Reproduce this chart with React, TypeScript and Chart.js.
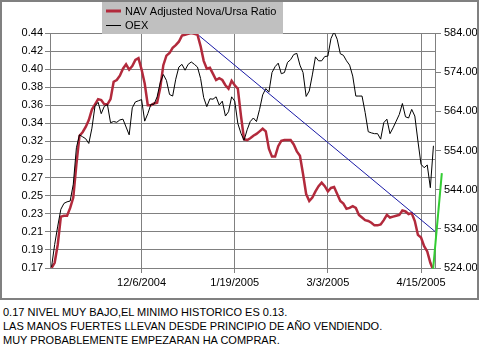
import { useEffect, useRef } from "react";
import { Chart, registerables } from "chart.js";

Chart.register(...registerables);

// ---- data (one value per trading day, 10/25/2004 .. 4/21/2005) ----
const xTickIdx = [29, 59, 89, 119];
const xTickLabels = ["12/6/2004", "1/19/2005", "3/3/2005", "4/15/2005"];
const leftTickLabels = ["0.17", "0.19", "0.21", "0.23", "0.25", "0.27", "0.29", "0.32", "0.34", "0.36", "0.38", "0.40", "0.42", "0.44"];
const rightTickValues = [524, 534, 544, 554, 564, 574, 584];

const navRatio = [
  0.170, 0.176, 0.197, 0.229, 0.230, 0.230, 0.239, 0.251, 0.289, 0.322,
  0.326, 0.332, 0.340, 0.352, 0.358, 0.364, 0.363, 0.358, 0.358, 0.364,
  0.384, 0.386, 0.391, 0.399, 0.404, 0.398, 0.402, 0.409, 0.411, 0.398,
  0.382, 0.357, 0.357, 0.359, 0.360, 0.377, 0.403, 0.414, 0.417, 0.423,
  0.426, 0.430, 0.437, 0.438, 0.439, 0.440, 0.439, 0.438, 0.425, 0.408,
  0.399, 0.400, 0.393, 0.386, 0.388, 0.386, 0.380, 0.376, 0.385, 0.380,
  0.376, 0.345, 0.318, 0.317, 0.319, 0.322, 0.324, 0.327, 0.330, 0.327,
  0.307, 0.298, 0.298, 0.310, 0.316, 0.317, 0.317, 0.317, 0.312, 0.304,
  0.299, 0.278, 0.255, 0.247, 0.251, 0.258, 0.264, 0.268, 0.264, 0.258,
  0.262, 0.263, 0.255, 0.247, 0.244, 0.238, 0.239, 0.241, 0.239, 0.231,
  0.228, 0.225, 0.224, 0.222, 0.219, 0.219, 0.220, 0.225, 0.231, 0.228,
  0.229, 0.230, 0.231, 0.236, 0.235, 0.232, 0.233, 0.224, 0.208, 0.205,
  0.195, 0.189, 0.176, 0.167,
];

const oex = [
  524.3, 530.0, 534.7, 539.0, 540.5, 540.9, 541.1, 545.4, 554.7, 558.0,
  557.5, 557.0, 555.8, 559.7, 565.4, 566.3, 563.4, 565.3, 565.7, 561.1,
  561.4, 561.2, 561.8, 562.0, 560.0, 558.0, 564.9, 566.4, 566.7, 567.0,
  561.5, 563.4, 565.8, 565.8, 567.7, 571.3, 573.4, 571.9, 568.3, 567.9,
  572.2, 575.3, 576.0, 574.5, 576.0, 576.6, 576.0, 575.3, 572.4, 567.5,
  565.2, 567.2, 567.1, 567.7, 565.6, 566.6, 562.8, 563.9, 567.7, 566.6,
  560.9, 558.4, 556.6, 559.3, 561.4, 562.3, 561.4, 564.5, 568.2, 569.8,
  568.9, 573.9, 575.4, 576.3, 573.6, 573.9, 576.5, 577.2, 578.5, 578.8,
  575.8, 573.9, 567.8, 569.2, 573.3, 577.9, 576.9, 576.9, 578.0, 578.1,
  582.6, 584.3, 582.4, 578.7, 578.3, 576.9, 575.8, 573.0, 567.9, 567.9,
  567.9, 563.7, 558.8, 558.5, 558.3, 558.3, 556.9, 561.1, 562.0, 558.3,
  559.8, 561.5, 563.2, 566.0, 562.6, 562.3, 564.5, 562.8, 556.4, 550.5,
  549.6, 550.3, 544.5, 555.2,
];

// hand-drawn annotations (on the ratio axis)
const trendX = [47.5, 123.5];
const trendY = [0.437, 0.212];
const reboundX = [122.9, 125.7];
const reboundY = [0.169, 0.279];

const notes = [
  "0.17 NIVEL MUY BAJO,EL MINIMO HISTORICO ES 0.13.",
  "LAS MANOS FUERTES LLEVAN DESDE PRINCIPIO DE AÑO VENDIENDO.",
  "MUY PROBABLEMENTE EMPEZARAN HA COMPRAR.",
];

const FONT = "'Liberation Sans', Arial, sans-serif";
const RED = "#b22a3c";
const GRID = "#808080";

export default function App() {
  const ref = useRef<HTMLCanvasElement | null>(null);

  useEffect(() => {
    document.body.style.margin = "0";
    const canvas = ref.current;
    if (!canvas) return;

    const framePlugin = {
      id: "frameLegend",
      afterDraw(chart: any) {
        const ctx = chart.ctx as CanvasRenderingContext2D;
        ctx.save();
        // legend box
        ctx.fillStyle = "#c0c0c0";
        ctx.fillRect(102, 2, 181, 32);
        ctx.lineCap = "butt";
        ctx.strokeStyle = RED;
        ctx.lineWidth = 3;
        ctx.beginPath();
        ctx.moveTo(106, 11);
        ctx.lineTo(121, 11);
        ctx.stroke();
        ctx.strokeStyle = "#000";
        ctx.lineWidth = 1;
        ctx.beginPath();
        ctx.moveTo(106, 25.5);
        ctx.lineTo(121, 25.5);
        ctx.stroke();
        ctx.fillStyle = "#000";
        ctx.font = "11px " + FONT;
        ctx.textBaseline = "middle";
        ctx.textAlign = "left";
        ctx.fillText(chart.data.datasets[3].label, 125, 11.5);
        ctx.fillText(chart.data.datasets[2].label, 125, 25.5);
        // outer frame
        ctx.strokeStyle = GRID;
        ctx.lineWidth = 2;
        ctx.strokeRect(1, 1, 477, 298);
        ctx.restore();
      },
    };

    const chart = new Chart(canvas, {
      type: "line",
      data: {
        datasets: [
          {
            label: "rebound",
            data: reboundX.map((x, k) => ({ x, y: reboundY[k] })),
            yAxisID: "y",
            borderColor: "#33cc33",
            borderWidth: 2,
            pointRadius: 0,
            clip: false,
            order: 0,
          },
          {
            label: "trend",
            data: trendX.map((x, k) => ({ x, y: trendY[k] })),
            yAxisID: "y",
            borderColor: "#1a1aa6",
            borderWidth: 1,
            pointRadius: 0,
            order: 1,
          },
          {
            label: "OEX",
            data: oex.map((y, i) => ({ x: i, y })),
            yAxisID: "y1",
            borderColor: "#000000",
            borderWidth: 1,
            pointRadius: 0,
            order: 2,
          },
          {
            label: "NAV Adjusted Nova/Ursa Ratio",
            data: navRatio.map((y, i) => ({ x: i, y })),
            yAxisID: "y",
            borderColor: RED,
            borderWidth: 2.5,
            pointRadius: 0,
            order: 3,
          },
        ],
      },
      options: {
        responsive: false,
        animation: false,
        devicePixelRatio: 1,
        parsing: false as any,
        layout: { padding: { top: 33, left: 0, right: 0, bottom: 0 } },
        plugins: { legend: { display: false }, tooltip: { enabled: false } },
        scales: {
          x: {
            type: "linear",
            min: -0.5,
            max: 123.5,
            afterBuildTicks: (s: any) => {
              s.ticks = xTickIdx.map((v) => ({ value: v }));
            },
            afterFit: (s: any) => {
              s.height = 32;
            },
            ticks: {
              callback: (_v: any, i: number) => xTickLabels[i],
              autoSkip: false,
              maxRotation: 0,
              padding: 3,
              color: "#000",
              font: { family: FONT, size: 11 },
            },
            grid: { color: GRID, tickLength: 5 },
            border: { color: GRID },
          },
          y: {
            type: "linear",
            position: "left",
            min: 0.17,
            max: 0.44,
            afterBuildTicks: (s: any) => {
              s.ticks = leftTickLabels.map((_l, k) => ({ value: 0.17 + (k * 0.27) / 13 }));
            },
            afterFit: (s: any) => {
              s.width = 50;
            },
            ticks: {
              callback: (_v: any, i: number) => leftTickLabels[i],
              autoSkip: false,
              padding: 2,
              color: "#000",
              font: { family: FONT, size: 11 },
            },
            grid: { color: GRID, tickLength: 5 },
            border: { color: GRID },
          },
          y1: {
            type: "linear",
            position: "right",
            min: 524,
            max: 584,
            afterBuildTicks: (s: any) => {
              s.ticks = rightTickValues.map((v) => ({ value: v }));
            },
            afterFit: (s: any) => {
              s.width = 45;
            },
            ticks: {
              callback: (v: any) => Number(v).toFixed(2),
              autoSkip: false,
              padding: 3,
              color: "#000",
              font: { family: FONT, size: 11 },
            },
            grid: { drawOnChartArea: false, color: GRID, tickLength: 6 },
            border: { color: GRID },
          },
        },
      },
      plugins: [framePlugin],
    } as any);

    return () => chart.destroy();
  }, []);

  return (
    <div
      style={{
        position: "fixed",
        left: 0,
        top: 0,
        width: 480,
        height: 360,
        background: "#fff",
        fontFamily: FONT,
      }}
    >
      <canvas ref={ref} width={480} height={300} style={{ display: "block", width: 480, height: 300 }} />
      <div style={{ position: "absolute", left: 3, top: 305, fontSize: 11, lineHeight: "14px", color: "#000" }}>
        {notes.map((n) => (
          <div key={n} style={{ whiteSpace: "nowrap" }}>
            {n}
          </div>
        ))}
      </div>
    </div>
  );
}
